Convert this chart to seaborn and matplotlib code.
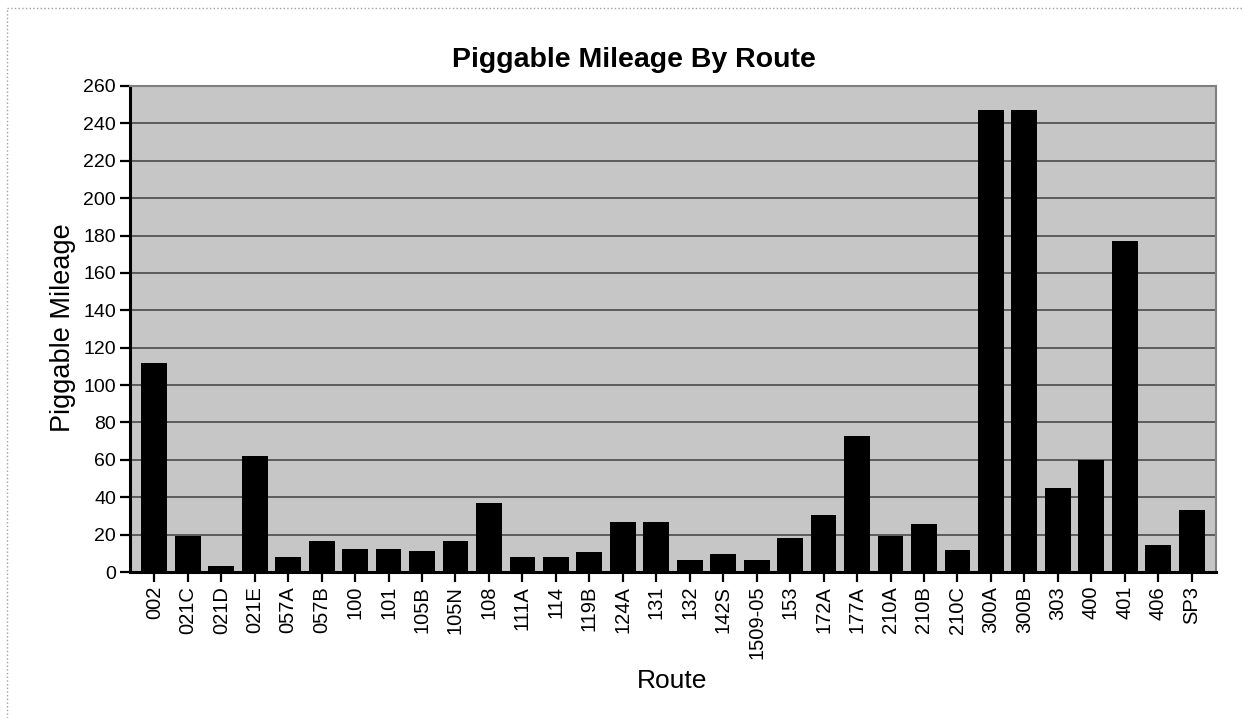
import pandas as pd
import seaborn as sns
import matplotlib.pyplot as plt
from matplotlib.lines import Line2D

sns.set_style("white")
plt.rcParams['font.family'] = ['Liberation Sans', 'DejaVu Sans']
plt.rcParams['text.color'] = 'black'
plt.rcParams['axes.labelcolor'] = 'black'

# Data
routes = ["002", "021C", "021D", "021E", "057A", "057B", "100", "101", "105B", "105N",
          "108", "111A", "114", "119B", "124A", "131", "132", "142S", "1509-05", "153",
          "172A", "177A", "210A", "210B", "210C", "300A", "300B", "303", "400", "401",
          "406", "SP3"]
mileage = [112, 19.5, 3, 62, 8, 16.5, 12.5, 12.5, 11.5, 16.5,
           37, 8, 8, 10.5, 26.5, 26.5, 6.5, 9.5, 6.5, 18,
           30.5, 73, 19.5, 25.5, 12, 247, 247, 45, 60, 177,
           14.5, 33]
y_ticks = list(range(0, 261, 20))

df = pd.DataFrame({"Route": routes, "Piggable Mileage": mileage})

fig = plt.figure(figsize=(12.44, 7.18), dpi=100)
ax = fig.add_axes([0.1045, 0.2033, 0.873, 0.677])

sns.barplot(data=df, x="Route", y="Piggable Mileage", color="black",
            width=0.77, saturation=1, edgecolor="black", linewidth=0, ax=ax)

ax.set_facecolor("#c6c6c6")
ax.set_xlim(-0.727, len(routes) - 1 + 0.727)
ax.set_ylim(0, 260)
ax.set_yticks(y_ticks)
ax.yaxis.grid(True, color="#4a4a4a", linewidth=1.2)
ax.set_axisbelow(True)

for side in ["top", "right"]:
    ax.spines[side].set_visible(True)
    ax.spines[side].set_color("#808080")
    ax.spines[side].set_linewidth(1.5)
for side in ["left", "bottom"]:
    ax.spines[side].set_color("black")
    ax.spines[side].set_linewidth(2.2)

ax.tick_params(axis="y", direction="out", length=7, width=1.6, colors="black",
               labelsize=14, left=True, pad=3)
ax.tick_params(axis="x", direction="out", length=7, width=1.6, colors="black",
               labelsize=14.5, bottom=True, rotation=90, pad=3)

ax.set_xlabel("")
ax.set_ylabel("")

# titles and axis labels placed like the original
fig.text(634 / 1244, 1 - 66.7 / 718, "Piggable Mileage By Route", ha="center",
         va="baseline", fontsize=20.5, fontweight="bold", color="black")
fig.text(63 / 1244, 1 - 328 / 718, "Piggable Mileage", rotation=90,
         ha="center", va="center", fontsize=19.5, color="black")
fig.text(672 / 1244, 1 - 681 / 718, "Route", ha="center", va="center",
         fontsize=19, color="black")

# thin border around the chart area
fig.add_artist(Line2D([7 / 1244, 7 / 1244], [0, 1 - 8 / 718], color="#a0a0a0",
                      linewidth=1, linestyle=":"))
fig.add_artist(Line2D([7 / 1244, 1], [1 - 8 / 718, 1 - 8 / 718], color="#a0a0a0",
                      linewidth=1, linestyle=":"))

plt.savefig("out.png", dpi=100)
